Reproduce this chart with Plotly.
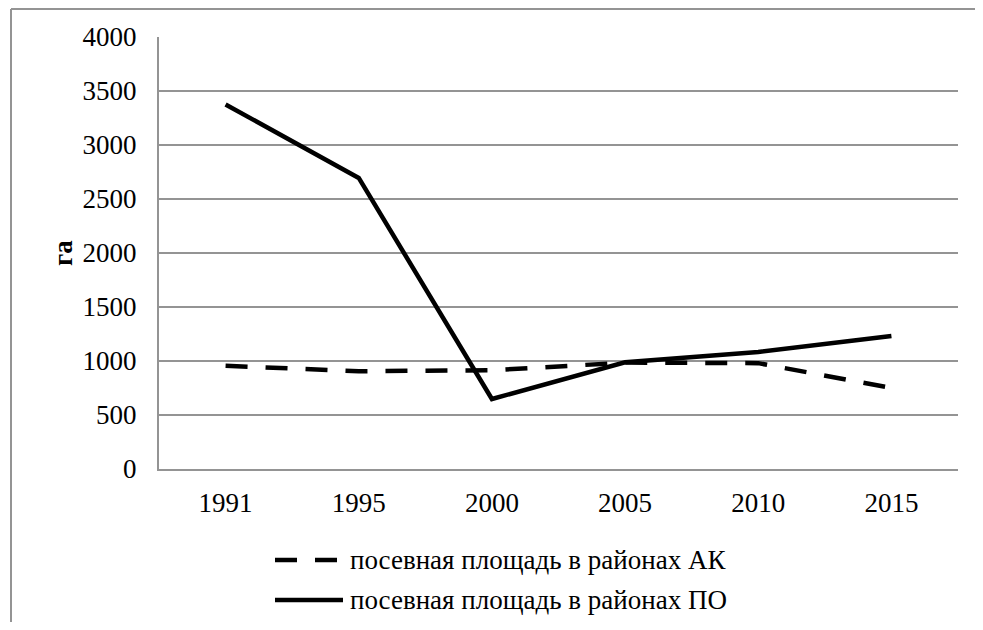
import plotly.graph_objects as go

years = ["1991", "1995", "2000", "2005", "2010", "2015"]
ak_values = [955, 905, 915, 985, 980, 750]
po_values = [3375, 2695, 648, 988, 1083, 1232]
series_names = ["посевная площадь в районах АК", "посевная площадь в районах ПО"]
y_ticks = [0, 500, 1000, 1500, 2000, 2500, 3000, 3500, 4000]

OFF = 8  # page body margin
W, H = 983 - 2 * OFF, 630 - 2 * OFF
L, R, T, B = 159 - OFF, 958 - OFF, 37 - OFF, 469 - OFF


def px_x(px):
    return (px - OFF - L) / (R - L)


def px_y(py):
    return (B - (py - OFF)) / (B - T)


FONT = "Liberation Serif"
FS = 27
FRAME = "#949494"

fig = go.Figure()
fig.add_trace(go.Scatter(x=years, y=ak_values, mode="lines", name=series_names[0],
                         line=dict(color="black", width=4.5, dash="22px,18px"),
                         showlegend=False))
fig.add_trace(go.Scatter(x=years, y=po_values, mode="lines", name=series_names[1],
                         line=dict(color="black", width=4.5),
                         showlegend=False))

shapes = []
# outer frame (left and top edges; the rest lies outside the picture)
shapes.append(dict(type="line", xref="paper", yref="paper",
                   x0=px_x(11), x1=px_x(11), y0=px_y(700), y1=px_y(9),
                   line=dict(color=FRAME, width=2), layer="below"))
shapes.append(dict(type="line", xref="paper", yref="paper",
                   x0=px_x(11), x1=px_x(1000), y0=px_y(9), y1=px_y(9),
                   line=dict(color=FRAME, width=2), layer="below"))
# legend samples
shapes.append(dict(type="line", xref="paper", yref="paper",
                   x0=px_x(275), x1=px_x(337), y0=px_y(560), y1=px_y(560),
                   line=dict(color="black", width=4.5, dash="22px,18px")))
shapes.append(dict(type="line", xref="paper", yref="paper",
                   x0=px_x(275), x1=px_x(343), y0=px_y(600), y1=px_y(600),
                   line=dict(color="black", width=4.5)))

annotations = []
for name, py in zip(series_names, [560, 600]):
    annotations.append(dict(text=name, xref="paper", yref="paper", x=px_x(348), y=px_y(py),
                            xanchor="left", yanchor="middle", showarrow=False,
                            font=dict(family=FONT, size=FS, color="black")))
annotations.append(dict(text="<b>га</b>", xref="paper", yref="paper", x=px_x(63), y=px_y(253),
                        xanchor="center", yanchor="middle", showarrow=False, textangle=-90,
                        font=dict(family=FONT, size=FS, color="black")))

fig.update_layout(
    width=W, height=H,
    margin=dict(l=L, r=W - R, t=T, b=H - B),
    paper_bgcolor="white", plot_bgcolor="white",
    font=dict(family=FONT, size=FS, color="black"),
    shapes=shapes, annotations=annotations,
    xaxis=dict(type="category", showgrid=False, showline=True, linecolor=FRAME, linewidth=2,
               ticks="", ticklabelstandoff=9, tickfont=dict(family=FONT, size=FS, color="black"),
               range=[-0.5, 5.5], fixedrange=True),
    yaxis=dict(range=[0, 4000], tickvals=y_ticks, showgrid=True, gridcolor=FRAME, gridwidth=1.5,
               showline=True, linecolor=FRAME, linewidth=2, ticks="", zeroline=False,
               ticklabelstandoff=15, tickfont=dict(family=FONT, size=FS, color="black"),
               fixedrange=True),
)

fig.write_html("out.html")
